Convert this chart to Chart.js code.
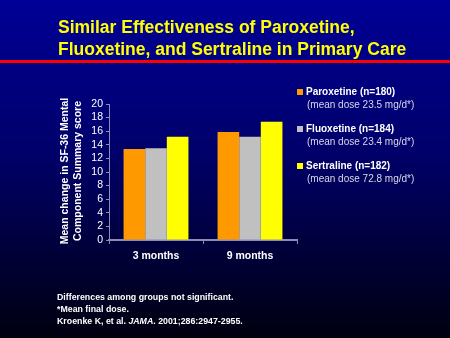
<!DOCTYPE html>
<html lang="en">
<head>
<meta charset="UTF-8">
<title>Similar Effectiveness of Paroxetine, Fluoxetine, and Sertraline</title>
<script src="https://cdn.jsdelivr.net/npm/chart.js"></script>
<style>
  html, body { margin: 0; padding: 0; background: #000033; }
  #wrap { width: 450px; height: 338px; }
</style>
</head>
<body>
<div id="wrap"><canvas id="chart" width="450" height="338"></canvas></div>
<script>
const categories = ['3 months', '9 months'];
const drugNames = ['Paroxetine (n=180)', 'Fluoxetine (n=184)', 'Sertraline (n=182)'];
const doseNotes = ['(mean dose 23.5 mg/d*)', '(mean dose 23.4 mg/d*)', '(mean dose 72.8 mg/d*)'];
const paroxetine = [13.4, 15.9];
const fluoxetine = [13.5, 15.2];
const sertraline = [15.2, 17.4];
const yTicks = [0, 2, 4, 6, 8, 10, 12, 14, 16, 18, 20];
const colors = ['#ff9900', '#c0c0c0', '#ffff00'];

const font = '"Liberation Sans", Arial, sans-serif';

// background, title, legend and notes
const slide = {
  id: 'slide',
  beforeDraw(chart) {
    const c = chart.ctx;
    const g = c.createLinearGradient(0, 0, 0, 338);
    g.addColorStop(0, '#000096');
    g.addColorStop(0.45, '#00006a');
    g.addColorStop(1, '#00000f');
    c.save();
    c.fillStyle = g;
    c.fillRect(0, 0, 450, 338);
    c.restore();
  },
  afterDraw(chart) {
    const c = chart.ctx;
    c.save();
    // title
    c.fillStyle = '#ffff00';
    c.font = 'bold 17.5px ' + font;
    c.textBaseline = 'middle';
    c.fillText('Similar Effectiveness of Paroxetine,', 58, 28);
    c.fillText('Fluoxetine, and Sertraline in Primary Care', 58, 50);
    c.fillStyle = '#ff0000';
    c.fillRect(0, 60, 450, 3);

    // y title
    c.fillStyle = '#ffffff';
    c.font = 'bold 10.5px ' + font;
    c.textAlign = 'center';
    c.translate(65, 171);
    c.rotate(-Math.PI / 2);
    c.fillText('Mean change in SF-36 Mental', 0, 0);
    c.fillText('Component Summary score', 0, 13);
    c.setTransform(1, 0, 0, 1, 0, 0);

    // legend
    const rows = [92, 129, 166];
    c.textAlign = 'left';
    rows.forEach((y, i) => {
      c.fillStyle = colors[i];
      c.fillRect(297, y - 3, 6, 6);
      c.fillStyle = '#ffffff';
      c.font = 'bold 10px ' + font;
      c.fillText(drugNames[i], 306, y);
      c.fillStyle = '#d8d8e8';
      c.font = '10px ' + font;
      c.fillText(doseNotes[i], 307, y + 13);
    });

    // notes
    c.fillStyle = '#ffffff';
    c.font = 'bold 8.8px ' + font;
    c.fillText('Differences among groups not significant.', 57, 298);
    c.fillText('*Mean final dose.', 57, 310);
    let x = 57;
    const parts = [['Kroenke K, et al. ', 'bold 8.8px '], ['JAMA', 'bold italic 8.8px '], ['. 2001;286:2947-2955.', 'bold 8.8px ']];
    parts.forEach(p => {
      c.font = p[1] + font;
      c.fillText(p[0], x, 322);
      x += c.measureText(p[0]).width;
    });
    c.restore();
  }
};

new Chart(document.getElementById('chart'), {
  type: 'bar',
  data: {
    labels: categories,
    datasets: [
      { label: drugNames[0], data: paroxetine, backgroundColor: colors[0] },
      { label: drugNames[1], data: fluoxetine, backgroundColor: colors[1] },
      { label: drugNames[2], data: sertraline, backgroundColor: colors[2] }
    ]
  },
  options: {
    responsive: false,
    animation: false,
    devicePixelRatio: 1,
    layout: { padding: { left: 79, right: 153, top: 104, bottom: 68 } },
    categoryPercentage: 0.69,
    barPercentage: 1.0,
    plugins: { legend: { display: false }, tooltip: { enabled: false } },
    scales: {
      x: {
        afterFit(s) { s.height = 30; },
        border: { display: true, color: '#8c8cb4', width: 2 },
        grid: { display: true, drawOnChartArea: false, drawTicks: true, tickLength: 4, color: '#8c8cb4' },
        ticks: { color: '#ffffff', font: { family: font, size: 10.5, weight: 'bold' }, padding: 6 }
      },
      y: {
        min: 0, max: 20,
        afterFit(s) { s.width = 30; },
        afterBuildTicks(s) { s.ticks = yTicks.map(v => ({ value: v })); },
        border: { display: true, color: '#8c8cb4', width: 1 },
        grid: { display: true, drawOnChartArea: false, drawTicks: true, tickLength: 3, color: '#8c8cb4' },
        ticks: { color: '#ffffff', font: { family: font, size: 10.5 }, padding: 3, autoSkip: false }
      }
    }
  },
  plugins: [slide]
});
</script>
</body>
</html>
